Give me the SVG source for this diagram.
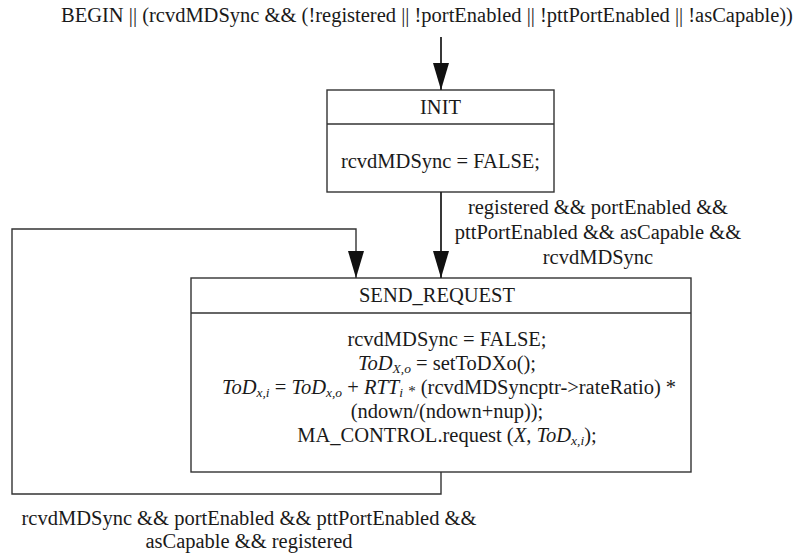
<svg xmlns="http://www.w3.org/2000/svg" width="798" height="556" viewBox="0 0 798 556">
<style>
text{font-family:"Liberation Serif","Times New Roman",serif;font-size:20.5px;fill:#1a1a1a;text-anchor:middle}
.it{font-style:italic}
.sub{font-size:13.5px;font-style:italic}
.ast{font-size:15px}
.box{fill:#fff;stroke:#333;stroke-width:1.4}
.div{stroke:#333;stroke-width:1.4}
.con{fill:none;stroke:#222;stroke-width:1.8}
.loop{fill:none;stroke:#333;stroke-width:1.4}
</style>
<defs>
<marker id="ad" markerUnits="userSpaceOnUse" markerWidth="28" markerHeight="18" viewBox="0 0 28 18" refX="27" refY="9" orient="auto">
<path d="M0,1 L27,9 L0,17 Z" fill="#111"/>
</marker>
</defs>

<text x="427" y="22">BEGIN || (rcvdMDSync &amp;&amp; (!registered || !portEnabled || !pttPortEnabled || !asCapable))</text>

<g id="INIT">
<rect class="box" x="327" y="90" width="227" height="102"/>
<line class="div" x1="327" y1="124" x2="554" y2="124"/>
<text x="440.5" y="114">INIT</text>
<text x="440.5" y="168">rcvdMDSync = FALSE;</text>
</g>

<g id="SEND_REQUEST">
<rect class="box" x="191" y="278" width="500" height="194"/>
<line class="div" x1="191" y1="313" x2="691" y2="313"/>
<text x="437" y="302">SEND_REQUEST</text>
<text x="447" y="346">rcvdMDSync = FALSE;</text>
<text x="447" y="370"><tspan class="it">ToD</tspan><tspan class="sub" dy="2.5">X,o</tspan><tspan dy="-2.5"> = setToDXo();</tspan></text>
<text x="449" y="394"><tspan class="it">ToD</tspan><tspan class="sub" dy="2.5">x,i</tspan><tspan dy="-2.5"> = </tspan><tspan class="it">ToD</tspan><tspan class="sub" dy="2.5">x,o</tspan><tspan dy="-2.5"> + </tspan><tspan class="it">RTT</tspan><tspan class="sub" dy="2.5">i</tspan><tspan dy="-2.5"> </tspan><tspan class="ast" dy="2">*</tspan><tspan dy="-2"> (rcvdMDSyncptr-&gt;rateRatio) *</tspan></text>
<text x="447" y="418">(ndown/(ndown+nup));</text>
<text x="447" y="442">MA_CONTROL.request (<tspan class="it">X</tspan>, <tspan class="it">ToD</tspan><tspan class="sub" dy="2.5">x,i</tspan><tspan dy="-2.5">);</tspan></text>
</g>

<g id="connectors">
<path class="con" d="M441,37 V90" marker-end="url(#ad)"/>
<path class="con" d="M441,192 V278" marker-end="url(#ad)"/>
<path class="loop" d="M441,472 V494 H12 V229 H356 V278" marker-end="url(#ad)"/>
<text x="598" y="214">registered &amp;&amp; portEnabled &amp;&amp;</text>
<text x="598" y="239">pttPortEnabled &amp;&amp; asCapable &amp;&amp;</text>
<text x="598" y="264">rcvdMDSync</text>
<text x="249" y="525">rcvdMDSync &amp;&amp; portEnabled &amp;&amp; pttPortEnabled &amp;&amp;</text>
<text x="249" y="548">asCapable &amp;&amp; registered</text>
</g>
</svg>
